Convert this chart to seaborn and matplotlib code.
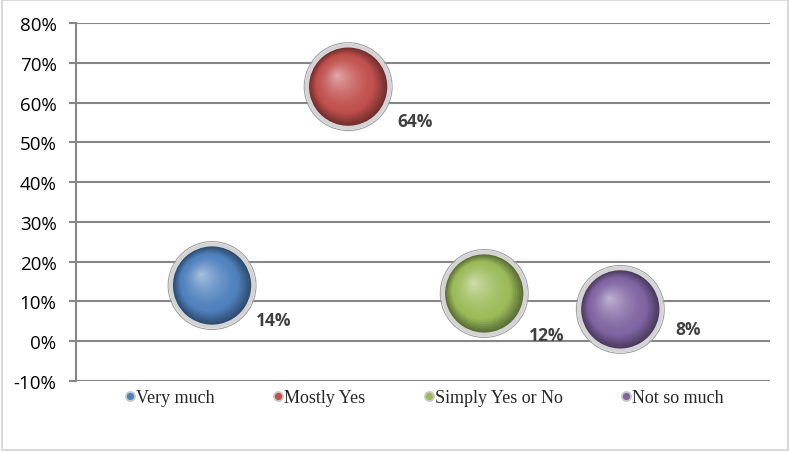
import matplotlib
matplotlib.use("Agg")
import matplotlib.pyplot as plt
import matplotlib.transforms as mtransforms
from matplotlib.colors import to_rgb
from matplotlib.lines import Line2D
from matplotlib.patches import Rectangle
import numpy as np
import pandas as pd
import seaborn as sns

categories = ["Very much", "Mostly Yes", "Simply Yes or No", "Not so much"]
values = [0.14, 0.64, 0.12, 0.08]
positions = [1, 2, 3, 4]
colors = ["#4F81BD", "#C0504D", "#9BBB59", "#8064A2"]
yticks = [-0.1, 0.0, 0.1, 0.2, 0.3, 0.4, 0.5, 0.6, 0.7, 0.8]
label_offsets = [(44, -25), (48, -25), (45, -30), (49, -14)]

df = pd.DataFrame({"cat": categories, "x": positions, "y": values})

sns.set_style("white")
fig = plt.figure(figsize=(7.9, 4.52), dpi=100)
ax = fig.add_axes([76 / 790, 1 - 382 / 452, (770 - 76) / 790, (382 - 24) / 452])

fig.patches.append(Rectangle((0.002, 0.003), 0.996, 0.994, transform=fig.transFigure,
                             fill=False, edgecolor="#d9d9d9", linewidth=1.5))

ax.set_xlim(0, 5.1)
ax.set_ylim(-0.1, 0.8)
ax.set_yticks(yticks)
ax.set_yticklabels([f"{int(round(v * 100))}%" for v in yticks],
                   fontsize=13.5, color="#000000", family="Open Sans")
ax.set_xticks([])
ax.yaxis.grid(True, color="#868686", linewidth=1.5)
ax.set_axisbelow(True)
for s in ["top", "right", "bottom"]:
    ax.spines[s].set_visible(False)
ax.spines["left"].set_color("#868686")
ax.spines["left"].set_linewidth(1.5)
ax.tick_params(axis="y", length=5, width=1.5, color="#868686", pad=9, left=True)

BASE = 3450
sns.scatterplot(data=df, x="x", y="y", hue="cat", palette=colors, s=BASE,
                edgecolor="#d4d4d4", linewidth=3.5, ax=ax, legend=False, zorder=3)
ax.scatter(df["x"], df["y"], s=BASE * 1.16, facecolors="none", edgecolors="#a0a0a0",
           linewidths=0.8, zorder=2.9)
ax.set_xlabel("")
ax.set_ylabel("")

def blend(c, t, toward=(1, 1, 1)):
    c = np.array(to_rgb(c))
    return tuple(c * (1 - t) + np.array(toward) * t)

nsteps = 24
for i in range(nsteps):
    f = i / (nsteps - 1)
    size = BASE * (1 - f * 0.97) ** 2 * 0.92
    shift = f * 8.0
    tr = mtransforms.offset_copy(ax.transData, fig=fig, x=-shift, y=shift, units="points")
    if f < 0.25:
        cols = [blend(c, 0.4 * (0.25 - f) / 0.25, (0, 0, 0)) for c in colors]
    else:
        cols = [blend(c, 0.5 * ((f - 0.25) / 0.75) ** 1.5) for c in colors]
    ax.scatter(df["x"], df["y"], s=size, c=cols, linewidths=0, transform=tr, zorder=4 + i * 0.01)

for xv, yv, off in zip(positions, values, label_offsets):
    ax.annotate(f"{int(round(yv * 100))}%", (xv, yv), xytext=off, textcoords="offset points",
                ha="center", va="center", fontsize=12.5, fontweight="bold", color="#404040",
                family="Open Sans", zorder=10)

handles = [Line2D([0], [0], marker="o", linestyle="", markersize=6.5, markerfacecolor=c,
                  markeredgecolor="#c8c8c8", markeredgewidth=1.3) for c in colors]
fig.legend(handles, categories, loc="center", bbox_to_anchor=(0.537, 1 - 399 / 452), ncol=4,
           frameon=False, handlelength=0.6, handletextpad=0.05, columnspacing=3.2,
           prop={"family": "Liberation Serif", "size": 13})

fig.savefig("out.png", dpi=100)
